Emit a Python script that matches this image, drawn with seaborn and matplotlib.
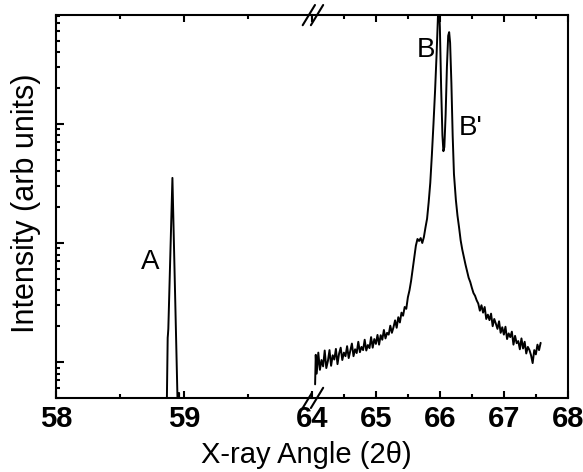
import matplotlib
matplotlib.use("Agg")
import matplotlib.pyplot as plt
from matplotlib.ticker import MultipleLocator, LogLocator, NullFormatter
import seaborn as sns
import pandas as pd

# peak A (narrow scan around 58.9)
angle_a = [58.862, 58.873, 58.875, 58.878, 58.91, 58.958, 58.962, 58.966]
inten_a = [2.0, 16.0, 17.0, 19.0, 352.0, 2.0, 5.5, 2.0]

# peaks B / B' (scan 64 - 67.6)
angle_b = [64.050, 64.060, 64.075, 64.100, 64.125, 64.150, 64.175, 64.200, 64.225, 64.250,
           64.275, 64.300, 64.325, 64.350, 64.375, 64.400, 64.425, 64.450, 64.475, 64.500,
           64.525, 64.550, 64.575, 64.600, 64.625, 64.650, 64.675, 64.700, 64.725, 64.750,
           64.775, 64.800, 64.825, 64.850, 64.875, 64.900, 64.925, 64.950, 64.975, 65.000,
           65.025, 65.050, 65.075, 65.100, 65.125, 65.150, 65.175, 65.200, 65.225, 65.250,
           65.275, 65.300, 65.325, 65.350, 65.375, 65.400, 65.425, 65.450, 65.475, 65.500,
           65.525, 65.550, 65.575, 65.600, 65.625, 65.650, 65.675, 65.700, 65.725, 65.750,
           65.775, 65.800, 65.825, 65.850, 65.875, 65.900, 65.925, 65.950, 65.970, 65.985,
           66.000, 66.020, 66.040, 66.055, 66.070, 66.090, 66.110, 66.130, 66.145, 66.160,
           66.180, 66.200, 66.220, 66.250, 66.275, 66.300, 66.325, 66.350, 66.375, 66.400,
           66.425, 66.450, 66.475, 66.500, 66.525, 66.550, 66.575, 66.600, 66.625, 66.650,
           66.675, 66.700, 66.725, 66.750, 66.775, 66.800, 66.825, 66.850, 66.875, 66.900,
           66.925, 66.950, 66.975, 67.000, 67.025, 67.050, 67.075, 67.100, 67.125, 67.150,
           67.175, 67.200, 67.225, 67.250, 67.275, 67.300, 67.325, 67.350, 67.375, 67.400,
           67.425, 67.450, 67.475, 67.500, 67.525, 67.550, 67.575]
inten_b = [6.5, 11.5, 8.0, 12.0, 8.6, 10.4, 9.2, 12.5, 8.9, 10.2,
           12.6, 9.3, 11.4, 10.5, 12.9, 9.6, 11.8, 13.2, 10.4, 12.0,
           11.2, 13.6, 10.8, 12.4, 14.3, 11.2, 12.8, 11.9, 14.8, 12.1,
           13.4, 12.6, 15.4, 12.5, 13.9, 13.1, 16.2, 13.2, 15.6, 14.2,
           16.9, 14.0, 16.8, 15.4, 18.6, 15.8, 17.6, 17.0, 20.2, 17.6,
           19.6, 22.4, 19.4, 23.8, 21.5, 26.0, 24.5, 29.0, 28.0, 35.0,
           40.0, 48.0, 60.0, 75.0, 95.0, 108.0, 104.0, 110.0, 100.0, 112.0,
           135.0, 160.0, 220.0, 320.0, 550.0, 1000.0, 1900.0, 4000.0, 8000.0, 11000.0,
           6500.0, 2000.0, 800.0, 590.0, 640.0, 1200.0, 3000.0, 5500.0, 5900.0, 4800.0,
           2200.0, 800.0, 380.0, 230.0, 170.0, 135.0, 105.0, 88.0, 76.0, 66.0,
           58.0, 51.0, 47.0, 42.0, 38.0, 36.0, 33.0, 31.0, 27.0, 30.0,
           26.0, 29.0, 23.0, 25.0, 22.5, 25.5, 20.0, 23.0, 21.0, 19.0,
           22.0, 17.6, 19.6, 17.0, 19.8, 15.6, 17.4, 16.2, 18.0, 14.0,
           16.6, 14.4, 15.0, 12.8, 15.8, 13.0, 14.8, 11.8, 13.4, 12.6,
           11.4, 9.8, 12.6, 11.6, 14.0, 12.6, 14.5]

left_ticks = [58, 59]
right_ticks = [64, 65, 66, 67, 68]

df_a = pd.DataFrame({"angle": angle_a, "intensity": inten_a})
df_b = pd.DataFrame({"angle": angle_b, "intensity": inten_b})

sns.set_style("ticks")
plt.rcParams["font.family"] = ["Liberation Sans", "DejaVu Sans"]
plt.rcParams.update({"text.color": "black", "axes.edgecolor": "black",
                     "xtick.color": "black", "ytick.color": "black",
                     "axes.labelcolor": "black"})

fig, (ax1, ax2) = plt.subplots(1, 2, figsize=(5.83, 4.72), dpi=100, sharey=True,
                               gridspec_kw={"wspace": 0})
fig.subplots_adjust(left=0.096, right=0.974, top=0.968, bottom=0.157)

sns.lineplot(data=df_a, x="angle", y="intensity", ax=ax1, color="black", lw=1.4,
             sort=False, estimator=None)
sns.lineplot(data=df_b, x="angle", y="intensity", ax=ax2, color="black", lw=1.4,
             sort=False, estimator=None)

ax1.set_xlim(58, 60)
ax1.set_xticks(left_ticks)
ax2.set_xlim(64, 68)
ax2.set_xticks(right_ticks)

for ax in (ax1, ax2):
    ax.set_yscale("log")
    ax.set_ylim(5, 8200)
    ax.set_xlabel("")
    ax.set_ylabel("")
    for s in ax.spines.values():
        s.set_linewidth(1.5)
    ax.xaxis.set_minor_locator(MultipleLocator(0.5))
    ax.tick_params(axis="x", which="both", direction="in", top=True, width=1.5)
    ax.tick_params(axis="x", which="major", length=5, labelsize=21, pad=5)
    ax.tick_params(axis="x", which="minor", length=3)
    for lab in ax.get_xticklabels():
        lab.set_fontweight("bold")

ax1.spines["right"].set_visible(False)
ax2.spines["left"].set_visible(False)
ax1.yaxis.set_major_locator(LogLocator(base=10))
ax1.yaxis.set_minor_locator(LogLocator(base=10, subs=range(2, 10)))
ax1.yaxis.set_major_formatter(NullFormatter())
ax1.yaxis.set_minor_formatter(NullFormatter())
ax1.tick_params(axis="y", which="both", direction="in", right=False, width=1.5)
ax1.tick_params(axis="y", which="major", length=6)
ax1.tick_params(axis="y", which="minor", length=3)
ax2.tick_params(axis="y", which="both", left=False, right=False, labelleft=False)

# break marks
d = 0.012
kw = dict(color="black", lw=1.5, clip_on=False)
for yy in (0, 1):
    ax1.plot([1 - 3 * d, 1 + d], [yy - 2.2 * d, yy + 2.2 * d], transform=ax1.transAxes, **kw)
    ax2.plot([-d + 0.008, 3 * d + 0.008], [yy - 2.2 * d, yy + 2.2 * d], transform=ax2.transAxes, **kw)

ax1.text(58.74, 69, "A", fontsize=20, ha="center", va="center")
ax2.text(65.78, 4200, "B", fontsize=20, ha="center", va="center")
ax2.text(66.48, 930, "B'", fontsize=20, ha="center", va="center")

fig.text(0.525, 0.035, "X-ray Angle (2θ)", fontsize=21, ha="center", va="center")
fig.text(0.045, 0.57, "Intensity (arb units)", fontsize=22, ha="center", va="center",
         rotation=90)

fig.savefig("out.png", dpi=100)
